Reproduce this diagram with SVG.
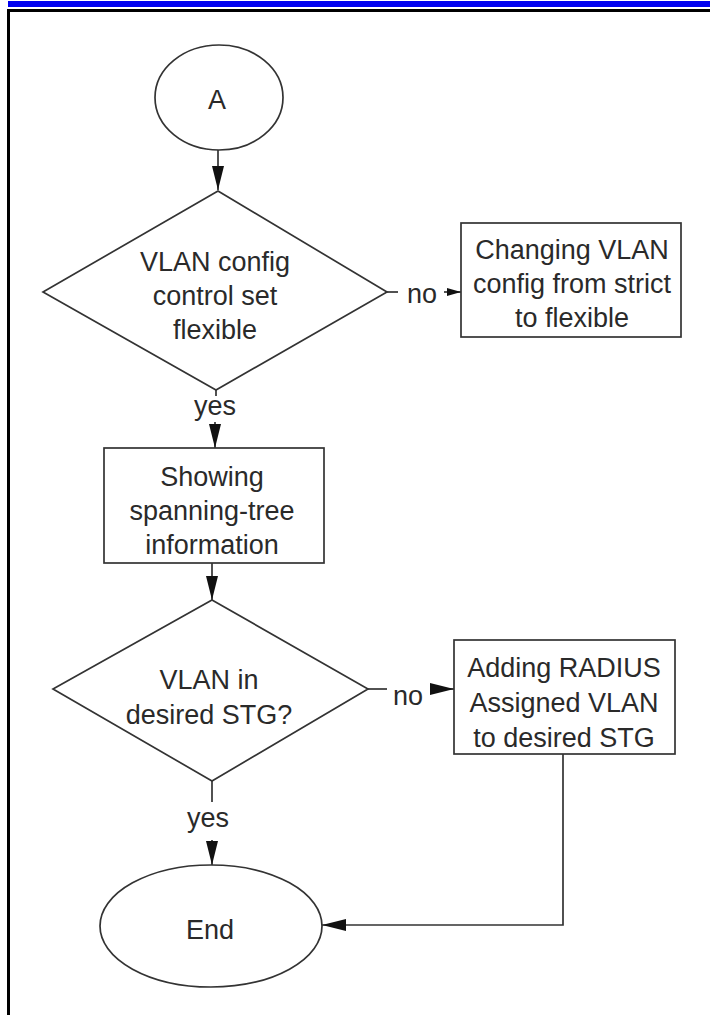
<svg xmlns="http://www.w3.org/2000/svg" width="710" height="1015" viewBox="0 0 710 1015">
<style>
.shape{fill:#fff;stroke:#333;stroke-width:1.7}
.conn{fill:none;stroke:#333;stroke-width:1.7}
.t{font-family:"Liberation Sans",Arial,sans-serif;font-size:27px;fill:#2a2a2a;text-anchor:middle}
</style>
<defs>
<marker id="arr" markerUnits="userSpaceOnUse" viewBox="0 0 24 12" markerWidth="24" markerHeight="12" refX="24" refY="6" orient="auto">
<path d="M0,0 L24,6 L0,12 Z" fill="#111"/>
</marker>
<marker id="arrS" markerUnits="userSpaceOnUse" viewBox="0 0 14 8" markerWidth="14" markerHeight="8" refX="14" refY="4" orient="auto">
<path d="M0,0 L14,4 L0,8 Z" fill="#111"/>
</marker>
</defs>
<rect x="8" y="1" width="702" height="6" fill="#0000f0"/>
<path d="M8.5,1015 V10.5 H710" fill="none" stroke="#000" stroke-width="3"/>

<g id="connectors">
<line class="conn" x1="218" y1="150" x2="218" y2="190" marker-end="url(#arr)"/>
<line class="conn" x1="387" y1="292" x2="398" y2="292"/>
<text class="t" x="422" y="303">no</text>
<line class="conn" x1="444" y1="292" x2="461" y2="292" marker-end="url(#arrS)"/>
<line class="conn" x1="216" y1="390" x2="216" y2="396"/>
<text class="t" x="215" y="415">yes</text>
<line class="conn" x1="215" y1="422" x2="215" y2="448" marker-end="url(#arr)"/>
<line class="conn" x1="212" y1="563" x2="212" y2="600" marker-end="url(#arr)"/>
<line class="conn" x1="368" y1="689" x2="387" y2="689"/>
<text class="t" x="408" y="705">no</text>
<line class="conn" x1="430" y1="689" x2="454" y2="689" marker-end="url(#arr)"/>
<line class="conn" x1="212" y1="781" x2="212" y2="802"/>
<text class="t" x="208" y="827">yes</text>
<line class="conn" x1="212" y1="840" x2="212" y2="865" marker-end="url(#arr)"/>
<polyline class="conn" points="563,754 563,925 322,925" marker-end="url(#arr)"/>
</g>

<g id="start">
<ellipse class="shape" cx="219" cy="97.5" rx="64" ry="52.5"/>
<text class="t" x="217" y="109">A</text>
</g>

<g id="decision1">
<polygon class="shape" points="218,191 387,292 216,390 43,292"/>
<text class="t" x="215" y="271">VLAN config</text>
<text class="t" x="215" y="305">control set</text>
<text class="t" x="215" y="339">flexible</text>
</g>

<g id="change-config">
<rect class="shape" x="461" y="223" width="220" height="114"/>
<text class="t" x="572" y="259">Changing VLAN</text>
<text class="t" x="572" y="293">config from strict</text>
<text class="t" x="572" y="327">to flexible</text>
</g>

<g id="show-stp">
<rect class="shape" x="104" y="448" width="220" height="115"/>
<text class="t" x="212" y="486">Showing</text>
<text class="t" x="212" y="520">spanning-tree</text>
<text class="t" x="212" y="554">information</text>
</g>

<g id="decision2">
<polygon class="shape" points="212,600 368,689 212,781 53,689"/>
<text class="t" x="209" y="689">VLAN in</text>
<text class="t" x="209" y="724">desired STG?</text>
</g>

<g id="add-radius">
<rect class="shape" x="454" y="640" width="221" height="114"/>
<text class="t" x="564" y="677">Adding RADIUS</text>
<text class="t" x="564" y="712">Assigned VLAN</text>
<text class="t" x="564" y="747">to desired STG</text>
</g>

<g id="end">
<ellipse class="shape" cx="211" cy="926" rx="111" ry="61"/>
<text class="t" x="210" y="939">End</text>
</g>
</svg>
